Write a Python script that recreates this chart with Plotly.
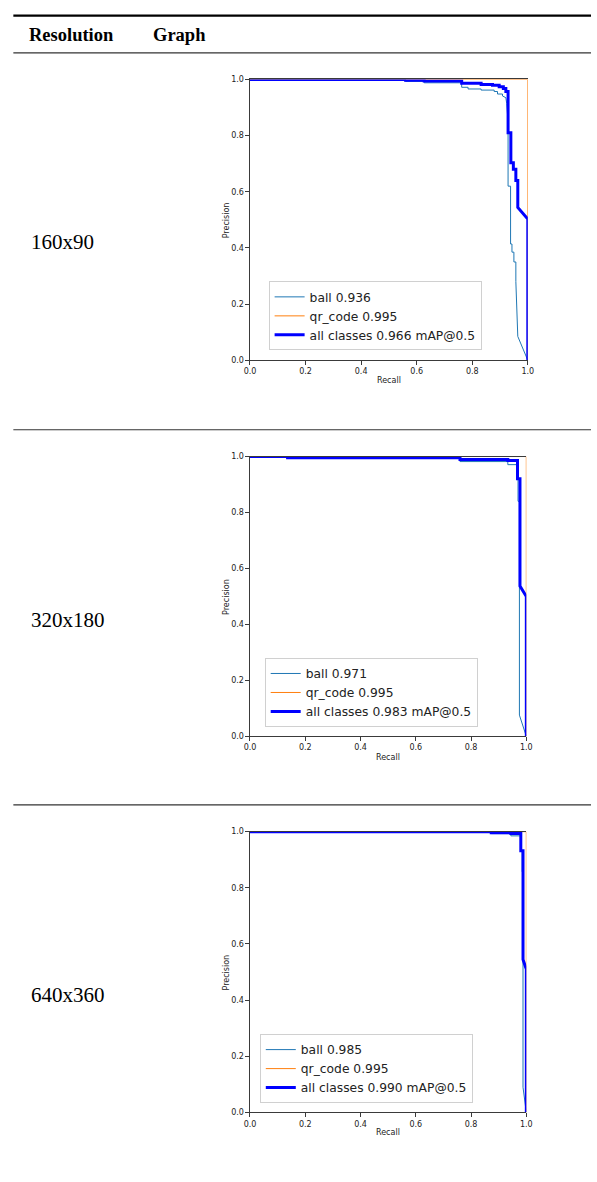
import plotly.graph_objects as go

W, H = 597, 1182

# ---------------- data ----------------
resolutions = ["160x90", "320x180", "640x360"]
ball_ap = ["0.936", "0.971", "0.985"]
qr_ap = ["0.995", "0.995", "0.995"]
all_map = ["0.966", "0.983", "0.990"]

tick_vals = [0.0, 0.2, 0.4, 0.6, 0.8, 1.0]
tick_text = ["0.0", "0.2", "0.4", "0.6", "0.8", "1.0"]

# 160x90
ball_r_160 = [0.0, 0.56, 0.56, 0.627, 0.627, 0.762, 0.762, 0.785, 0.785, 0.832, 0.832, 0.879, 0.879,
              0.891, 0.891, 0.909, 0.909, 0.921, 0.924, 0.929, 0.929, 0.938, 0.938, 0.943, 0.943,
              0.950, 0.950, 0.957, 0.957, 0.964, 1.0]
ball_p_160 = [1.0, 1.0, 0.993, 0.993, 0.988, 0.988, 0.972, 0.972, 0.966, 0.966, 0.962, 0.962, 0.957,
              0.957, 0.948, 0.948, 0.941, 0.935, 0.915, 0.85, 0.62, 0.62, 0.414, 0.414, 0.385,
              0.385, 0.35, 0.35, 0.28, 0.085, 0.0]
qr_r_160 = [0.0, 1.0, 1.0]
qr_p_160 = [1.0, 1.0, 0.0]
all_r_160 = [0.0, 0.56, 0.56, 0.627, 0.627, 0.762, 0.762, 0.832, 0.832, 0.873, 0.873, 0.897, 0.897,
             0.912, 0.912, 0.921, 0.921, 0.929, 0.929, 0.939, 0.939, 0.948, 0.948, 0.957, 0.957,
             0.964, 0.964, 1.0, 1.0]
all_p_160 = [1.0, 1.0, 0.997, 0.997, 0.994, 0.994, 0.986, 0.986, 0.982, 0.982, 0.979, 0.979, 0.974,
             0.974, 0.968, 0.968, 0.957, 0.957, 0.81, 0.81, 0.703, 0.703, 0.68, 0.68, 0.64,
             0.64, 0.544, 0.503, 0.0]

# 320x180
ball_r_320 = [0.0, 0.136, 0.136, 0.76, 0.76, 0.933, 0.933, 0.970, 0.970, 0.975, 0.975, 1.0]
ball_p_320 = [1.0, 1.0, 0.993, 0.993, 0.982, 0.982, 0.971, 0.971, 0.84, 0.84, 0.076, 0.0]
qr_r_320 = [0.0, 1.0, 1.0]
qr_p_320 = [1.0, 1.0, 0.0]
all_r_320 = [0.0, 0.136, 0.136, 0.76, 0.76, 0.933, 0.933, 0.968, 0.968, 0.977, 0.977, 1.0, 1.0]
all_p_320 = [1.0, 1.0, 0.996, 0.996, 0.989, 0.989, 0.986, 0.986, 0.921, 0.921, 0.537, 0.5, 0.0]

# 640x360
ball_r_640 = [0.0, 0.873, 0.873, 0.944, 0.944, 0.980, 0.980, 0.985, 0.985, 0.988, 0.988, 1.0]
ball_p_640 = [1.0, 1.0, 0.993, 0.993, 0.985, 0.985, 0.932, 0.932, 0.857, 0.857, 0.09, 0.0]
qr_r_640 = [0.0, 1.0, 1.0]
qr_p_640 = [1.0, 1.0, 0.0]
all_r_640 = [0.0, 0.873, 0.873, 0.944, 0.944, 0.980, 0.980, 0.988, 0.988, 1.0, 1.0]
all_p_640 = [1.0, 1.0, 0.996, 0.996, 0.993, 0.993, 0.932, 0.932, 0.545, 0.51, 0.0]

panels = [
    (ball_r_160, ball_p_160, qr_r_160, qr_p_160, all_r_160, all_p_160),
    (ball_r_320, ball_p_320, qr_r_320, qr_p_320, all_r_320, all_p_320),
    (ball_r_640, ball_p_640, qr_r_640, qr_p_640, all_r_640, all_p_640),
]

# ---------------- layout geometry (pixels) ----------------
plot_boxes = [  # left, right, top, bottom
    (249, 532.5, 76, 359),
    (249, 531, 456, 738),
    (249, 531, 834, 1117),
]
legend_pos = [(268, 279.5), (264, 659), (259, 1038)]
row_label_y = [240, 621, 999]


def px(x):
    return x / W


def py(y):
    return 1 - y / H


BALL_C = "#1f77b4"
QR_C = "#ff7f0e"
ALL_C = "#0000ff"
TXT = "#222222"
SPINE = "#3a3a3a"

fig = go.Figure()
layout = dict(
    width=W, height=H,
    margin=dict(l=0, r=0, t=0, b=0),
    paper_bgcolor="white", plot_bgcolor="white",
    showlegend=True,
)
annotations = []
shapes = []

for i, (br, bp, qr_r, qr_p, ar, ap) in enumerate(panels):
    n = "" if i == 0 else str(i + 1)
    xa, ya = "x" + n, "y" + n
    lg = "legend" + n
    fig.add_trace(go.Scatter(x=br, y=bp, mode="lines", xaxis=xa, yaxis=ya, legend=lg,
                             name=f"ball {ball_ap[i]}", line=dict(color=BALL_C, width=1)))
    fig.add_trace(go.Scatter(x=qr_r, y=qr_p, mode="lines", xaxis=xa, yaxis=ya, legend=lg,
                             name=f"qr_code {qr_ap[i]}", line=dict(color=QR_C, width=1)))
    fig.add_trace(go.Scatter(x=ar, y=ap, mode="lines", xaxis=xa, yaxis=ya, legend=lg,
                             name=f"all classes {all_map[i]} mAP@0.5", line=dict(color=ALL_C, width=3)))

    l, r, t, b = plot_boxes[i]
    common = dict(range=[0, 1], tickvals=tick_vals, ticktext=tick_text, showgrid=False,
                  zeroline=False, showline=True, linecolor=SPINE, linewidth=1,
                  ticks="outside", ticklen=3.5, tickwidth=1, tickcolor=SPINE,
                  tickfont=dict(family="DejaVu Sans", size=8, color=TXT), fixedrange=True)
    layout["xaxis" + n] = dict(common, domain=[px(l), px(r)], anchor=ya, mirror=True)
    layout["yaxis" + n] = dict(common, domain=[py(b), py(t)], anchor=xa, mirror=False)

    lx, ly = legend_pos[i]
    layout[lg] = dict(x=px(lx), y=py(ly), xanchor="left", yanchor="top",
                      bgcolor="rgba(255,255,255,0.85)", bordercolor="#d0d0d0", borderwidth=1,
                      font=dict(family="DejaVu Sans", size=12.3, color=TXT),
                      traceorder="normal", itemwidth=30)

    # axis titles
    annotations.append(dict(x=px((l + r) / 2), y=py(379 + (t - 76)), xref="paper", yref="paper",
                            text="Recall", showarrow=False, xanchor="center", yanchor="middle",
                            font=dict(family="DejaVu Sans", size=8, color=TXT)))
    annotations.append(dict(x=px(225), y=py((t + b) / 2), xref="paper", yref="paper",
                            text="Precision", showarrow=False, textangle=-90,
                            xanchor="center", yanchor="middle",
                            font=dict(family="DejaVu Sans", size=8, color=TXT)))
    # row label
    annotations.append(dict(x=px(23), y=py(row_label_y[i]), xref="paper", yref="paper",
                            text=resolutions[i], showarrow=False, xanchor="left", yanchor="middle",
                            font=dict(family="Liberation Serif", size=21, color="black")))

# table header
annotations.append(dict(x=px(21.5), y=py(31), xref="paper", yref="paper", text="<b>Resolution</b>",
                        showarrow=False, xanchor="left", yanchor="middle",
                        font=dict(family="Liberation Serif", size=18.5, color="black")))
annotations.append(dict(x=px(148), y=py(31), xref="paper", yref="paper", text="<b>Graph</b>",
                        showarrow=False, xanchor="left", yanchor="middle",
                        font=dict(family="Liberation Serif", size=18.5, color="black")))

# table rules
rules = [(11.7, 2.2), (49.2, 1.3), (429, 1.2), (807, 1.2)]
for yy, lw in rules:
    shapes.append(dict(type="line", xref="paper", yref="paper", x0=px(7.5), x1=1.0,
                       y0=py(yy), y1=py(yy), line=dict(color="black" if lw > 2 else "#333333", width=lw)))

layout["annotations"] = annotations
layout["shapes"] = shapes
fig.update_layout(**layout)

fig.write_html("out.html")
